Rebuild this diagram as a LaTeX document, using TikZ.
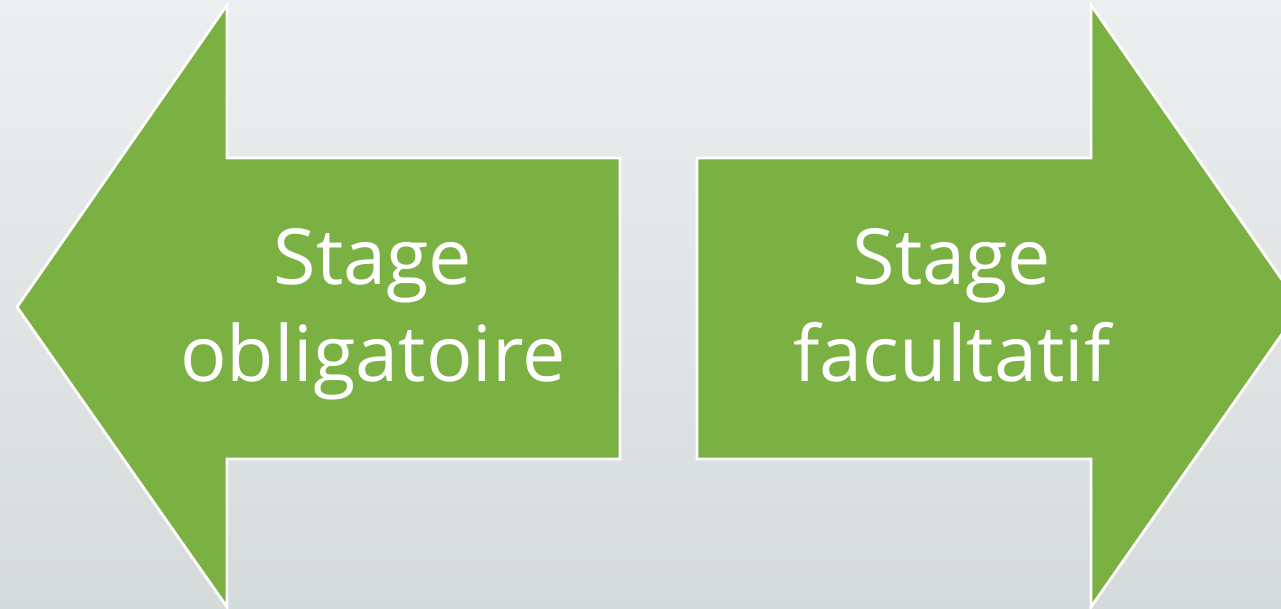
\documentclass[tikz,border=0pt]{standalone}
\usepackage{fontspec}
\setmainfont{Open Sans}[Ligatures=NoCommon]
\definecolor{leafgreen}{HTML}{7AB142}
\definecolor{bgtop}{HTML}{ECEFEF}
\definecolor{bgbottom}{HTML}{D5DADB}

\begin{document}
\begin{tikzpicture}[x=0.01cm, y=-0.01cm,
	stagetext/.style={text=white, align=center, text depth=6pt, font=\fontsize{22}{27.6}\selectfont}]
			%%%%% START %%%%%
			\useasboundingbox (0, 0) rectangle (1281, 609);
			\clip (0, 0) rectangle (1281, 609);
			\shade[top color=bgtop, bottom color=bgbottom] (0, 0) rectangle (1281, 609);
			
			\draw[fill=leafgreen, draw=white, line width=0.8pt, line join=miter] (17, 307) -- (227, 5) -- (227, 158) -- (620, 158) -- (620, 459) -- (227, 459) -- (227, 607) -- cycle;
			\node[stagetext] (mandatory) at (373, 316) {Stage\\obligatoire};
			
			\draw[fill=leafgreen, draw=white, line width=0.8pt, line join=miter] (1301, 307) -- (1091, 5) -- (1091, 158) -- (697, 158) -- (697, 459) -- (1091, 459) -- (1091, 607) -- cycle;
			\node[stagetext] (optional) at (952, 316) {Stage\\facultatif};
			%%%%% END %%%%%
\end{tikzpicture}
\end{document}
